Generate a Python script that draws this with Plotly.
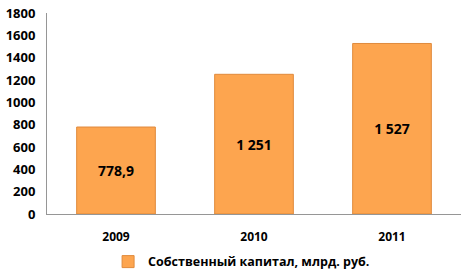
import plotly.graph_objects as go

years = ["2009", "2010", "2011"]
values = [778.9, 1251, 1527]
labels = ["778,9", "1 251", "1 527"]
y_ticks = [0, 200, 400, 600, 800, 1000, 1200, 1400, 1600, 1800]
series_name = "Собственный капитал, млрд. руб."

fig = go.Figure()
fig.add_trace(go.Bar(
    x=years, y=values, name=series_name,
    text=labels, textposition="inside", insidetextanchor="middle",
    textfont=dict(family="Open Sans", size=14, color="black", weight="bold"),
    marker=dict(color="#FDA54F", line=dict(color="#E08A3C", width=1)),
    width=0.57, showlegend=True,
))
fig.update_layout(
    width=473, height=279,
    margin=dict(l=47, r=12, t=13, b=0),
    plot_bgcolor="white", paper_bgcolor="white",
    font=dict(family="Open Sans", size=12, color="black"),
    showlegend=True,
    legend=dict(orientation="h", x=0.47, xanchor="center", y=0.064,
                yanchor="middle",
                font=dict(family="Open Sans", size=12.5, weight="bold"),
                itemwidth=30),
    xaxis=dict(showline=True, linecolor="#969696", linewidth=1, ticks="",
               tickfont=dict(size=12, weight="bold"), showgrid=False,
               ticklabelstandoff=12, automargin=False),
    yaxis=dict(range=[0, 1800], tickvals=y_ticks, showline=True, linecolor="#969696",
               linewidth=1, showgrid=False, zeroline=False, ticks="",
               domain=[0.2444, 1], automargin=False,
               tickfont=dict(size=13, weight="bold"), ticklabelstandoff=8),
)
fig.write_html("out.html")
